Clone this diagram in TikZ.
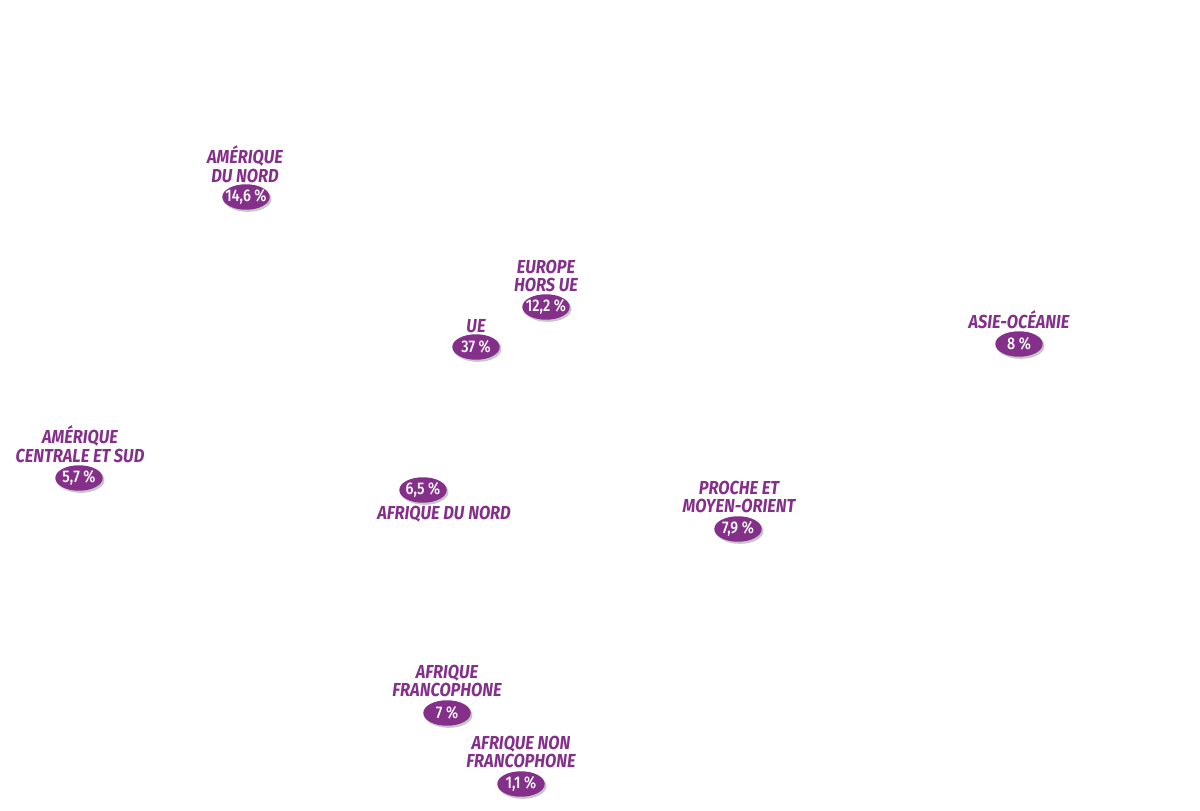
\documentclass[tikz,border=0pt]{standalone}
\usepackage{fontspec}
\newfontfamily\regionfont[FakeStretch=0.875]{Fira Sans}
\newfontfamily\badgefont[FakeStretch=0.85]{Fira Sans Medium}
\usetikzlibrary{positioning,shadows,shapes.geometric}
\definecolor{regpurple}{HTML}{84308A}

\begin{document}
\begin{tikzpicture}[x=0.02cm,y=-0.02cm,
  region/.style={text=regpurple,align=center,inner sep=0pt,
    font=\regionfont\bfseries\itshape\fontsize{10.7}{10.6}\selectfont},
  badge/.style={ellipse,fill=regpurple,text=white,inner xsep=-6pt,inner ysep=-3pt,
    minimum width=27pt,minimum height=14.5pt,
    font=\badgefont\fontsize{9.6}{9}\selectfont,
    drop shadow={shadow xshift=1pt,shadow yshift=-1.2pt,fill=black!22,opacity=1}}]

\useasboundingbox (0,0) rectangle (1200,811);

% Amerique du nord
\node[region] (amn) at (245,164.5) {AMÉRIQUE\\DU NORD};
\node[badge] (amnp) at (246,197) {14,6 \%};

% Europe hors UE
\node[region] (eur) at (546,276) {EUROPE\\HORS UE};
\node[badge] (eurp) at (546,307) {12,2 \%};

% UE
\node[region] (ue) at (476,326) {UE};
\node[badge] (uep) at (476,347) {37 \%};

% Asie
\node[region] (asie) at (1019,320) {ASIE-OCÉANIE};
\node[badge] (asiep) at (1019,344) {8 \%};

% Amerique centrale
\node[region] (acs) at (80,444) {AMÉRIQUE\\CENTRALE ET SUD};
\node[badge] (acsp) at (79,478) {5,7 \%};

% Afrique du nord
\node[badge] (afnp) at (423,490) {6,5 \%};
\node[region] (afn) at (444,514) {AFRIQUE DU NORD};

% Proche et moyen-orient
\node[region] (pmo) at (739,497) {PROCHE ET\\MOYEN-ORIENT};
\node[badge] (pmop) at (738,529) {7,9 \%};

% Afrique francophone
\node[region] (afr) at (447,681) {AFRIQUE\\FRANCOPHONE};
\node[badge] (afrp) at (447,713) {7 \%};

% Afrique non francophone
\node[region] (afnf) at (521,752) {AFRIQUE NON\\FRANCOPHONE};
\node[badge] (afnfp) at (521,784) {1,1 \%};

\end{tikzpicture}
\end{document}
